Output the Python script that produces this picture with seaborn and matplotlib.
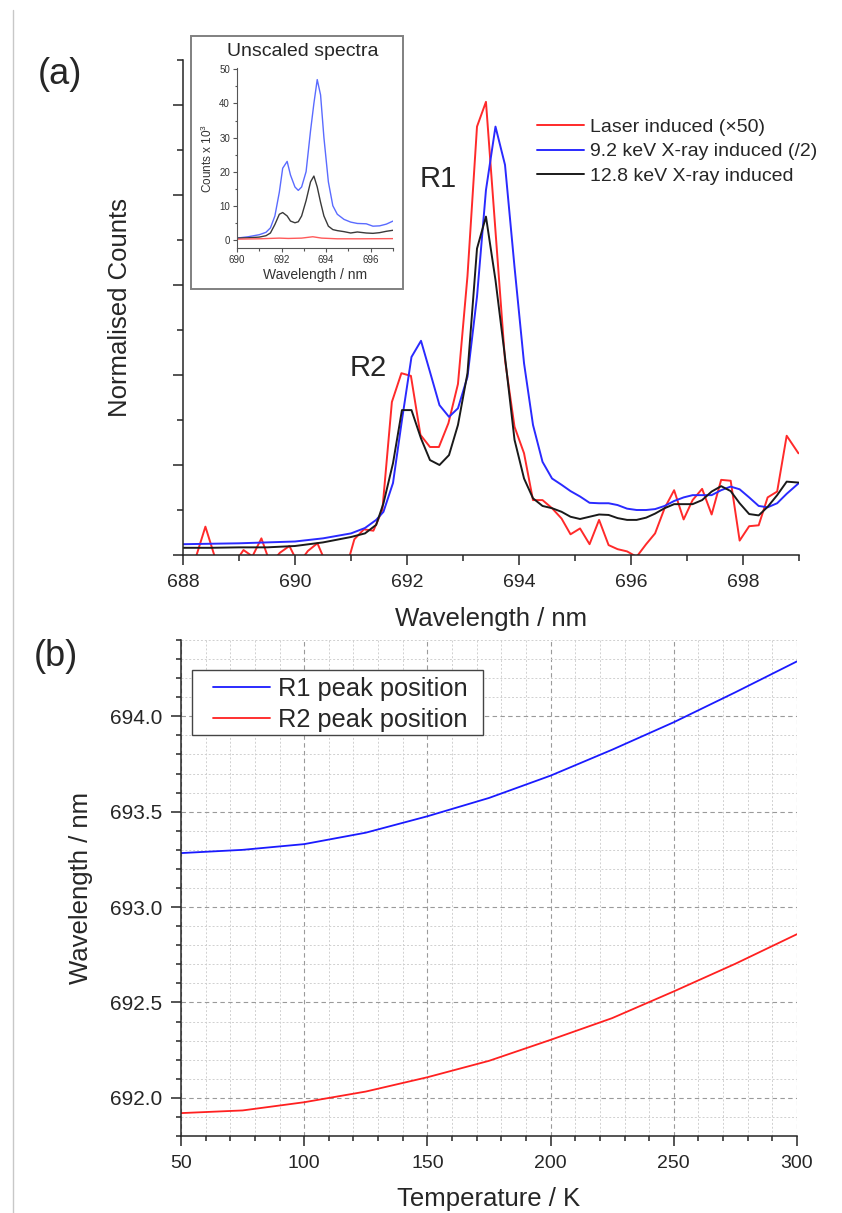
import matplotlib
matplotlib.use("Agg")
import matplotlib.pyplot as plt
from matplotlib.ticker import MultipleLocator, NullFormatter
from matplotlib.patches import Rectangle
from matplotlib.lines import Line2D
import seaborn as sns

# ---- (a) normalised spectra ----
laser_x = [688.06, 688.23, 688.40, 688.57, 688.74, 688.91, 689.08, 689.24, 689.40, 689.56,
           689.73, 689.90, 690.06, 690.23, 690.40, 690.56, 690.73, 690.89, 691.06, 691.23,
           691.40, 691.56, 691.73, 691.90, 692.07, 692.24, 692.41, 692.57, 692.74, 692.91,
           693.08, 693.25, 693.41, 693.58, 693.75, 693.92, 694.09, 694.25, 694.42, 694.59,
           694.76, 694.92, 695.09, 695.26, 695.43, 695.60, 695.76, 695.93, 696.10, 696.27,
           696.43, 696.60, 696.77, 696.94, 697.10, 697.27, 697.44, 697.61, 697.78, 697.94,
           698.11, 698.28, 698.44, 698.61, 698.78, 698.99]
laser_y = [-0.03, -0.005, 0.063, -0.005, -0.03, -0.02, 0.011, -0.003, 0.037, -0.02,
           0.005, 0.02, -0.02, 0.009, 0.026, -0.02, -0.05, -0.04, 0.035, 0.057,
           0.054, 0.10, 0.34, 0.404, 0.398, 0.267, 0.24, 0.24, 0.293, 0.38,
           0.62, 0.952, 1.007, 0.72, 0.433, 0.285, 0.226, 0.122, 0.122, 0.104,
           0.081, 0.046, 0.059, 0.024, 0.078, 0.022, 0.013, 0.008, -0.004, 0.024,
           0.048, 0.104, 0.144, 0.079, 0.122, 0.147, 0.09, 0.167, 0.165, 0.032,
           0.064, 0.066, 0.128, 0.141, 0.265, 0.226]

xray_x = [688.0, 688.5, 689.0, 689.5, 690.0, 690.5, 691.0, 691.25, 691.45, 691.58,
          691.75, 691.91, 692.08, 692.25, 692.41, 692.58, 692.75, 692.91, 693.08, 693.25,
          693.41, 693.58, 693.75, 693.92, 694.09, 694.25, 694.42, 694.59, 694.76, 694.92,
          695.09, 695.26, 695.43, 695.60, 695.76, 695.93, 696.10, 696.27, 696.43, 696.60,
          696.77, 696.94, 697.10, 697.27, 697.44, 697.61, 697.78, 697.94, 698.11, 698.28,
          698.44, 698.61, 698.78, 698.99]
kev92_y = [0.024, 0.025, 0.026, 0.028, 0.030, 0.037, 0.048, 0.060, 0.078, 0.096,
           0.16, 0.30, 0.44, 0.476, 0.407, 0.333, 0.307, 0.326, 0.396, 0.574,
           0.811, 0.952, 0.867, 0.64, 0.426, 0.289, 0.207, 0.17, 0.156, 0.142,
           0.13, 0.116, 0.115, 0.115, 0.111, 0.103, 0.1, 0.1, 0.102, 0.109,
           0.12, 0.128, 0.133, 0.133, 0.133, 0.144, 0.152, 0.146, 0.128, 0.109,
           0.106, 0.115, 0.136, 0.159]
kev128_y = [0.016, 0.016, 0.017, 0.017, 0.020, 0.028, 0.040, 0.048, 0.067, 0.115,
            0.204, 0.322, 0.322, 0.259, 0.211, 0.2, 0.222, 0.289, 0.404, 0.681,
            0.752, 0.611, 0.44, 0.256, 0.17, 0.126, 0.109, 0.104, 0.096, 0.085,
            0.08, 0.085, 0.09, 0.089, 0.082, 0.078, 0.078, 0.083, 0.092, 0.104,
            0.113, 0.113, 0.113, 0.122, 0.141, 0.153, 0.142, 0.115, 0.091, 0.088,
            0.107, 0.133, 0.163, 0.161]

# ---- inset, unscaled counts x 10^3 ----
ins_x = [690.0, 690.5, 691.0, 691.3, 691.5, 691.7, 691.9, 692.05, 692.25, 692.4,
         692.6, 692.75, 692.9, 693.1, 693.3, 693.45, 693.6, 693.75, 693.9, 694.1,
         694.3, 694.5, 694.8, 695.1, 695.4, 695.8, 696.1, 696.4, 696.7, 697.0]
ins_blue = [0.5, 0.9, 1.5, 2.2, 3.5, 7, 14, 21, 23, 19,
            15.5, 14.5, 15.5, 20, 32, 40, 47, 42.5, 30, 17,
            10, 7.5, 6.0, 5.2, 4.8, 4.7, 4.0, 4.1, 4.6, 5.5]
ins_black = [0.5, 0.6, 0.8, 1.2, 2.0, 4.5, 7.5, 8.0, 7.0, 5.5,
             5.0, 5.3, 7.0, 11.5, 17, 18.7, 15.5, 11, 7, 4.0,
             3.0, 2.7, 2.4, 2.0, 2.3, 2.0, 1.9, 2.1, 2.5, 2.8]
ins_red_x = [690.0, 691.0, 691.9, 692.3, 692.9, 693.4, 693.8, 694.5, 695.5, 697.0]
ins_red = [0.2, 0.3, 0.5, 0.4, 0.5, 0.9, 0.5, 0.3, 0.3, 0.35]

# ---- (b) peak positions ----
temp_K = [50, 75, 100, 125, 150, 175, 200, 225, 250, 275, 300]
r1_nm = [693.283, 693.30, 693.33, 693.39, 693.476, 693.572, 693.689, 693.825, 693.969, 694.126, 694.288]
r2_nm = [691.92, 691.934, 691.977, 692.033, 692.108, 692.194, 692.304, 692.418, 692.558, 692.703, 692.858]

sns.set_style("ticks")
plt.rcParams['font.family'] = ['Liberation Sans', 'DejaVu Sans']
plt.rcParams['mathtext.default'] = 'regular'

W, H = 842, 1213
fig = plt.figure(figsize=(W / 100, H / 100), dpi=100)

# left page border line
fig.add_artist(Line2D([12.7 / W, 12.7 / W], [0, 1 - 10 / H], color='#c8c8c8', lw=1))

ax1 = fig.add_axes([183 / W, 1 - 555 / H, 616 / W, 495 / H])
sns.lineplot(x=laser_x, y=laser_y, ax=ax1, color='#ff2a2a', lw=1.4, label='Laser induced (×50)')
sns.lineplot(x=xray_x, y=kev92_y, ax=ax1, color='#2a2aff', lw=1.4, label='9.2 keV X-ray induced (/2)')
sns.lineplot(x=xray_x, y=kev128_y, ax=ax1, color='#1a1a1a', lw=1.4, label='12.8 keV X-ray induced')
ax1.set_xlim(688, 699)
ax1.set_ylim(0, 1.1)
ax1.xaxis.set_major_locator(MultipleLocator(2))
ax1.xaxis.set_minor_locator(MultipleLocator(1))
ax1.yaxis.set_major_locator(MultipleLocator(0.2))
ax1.yaxis.set_minor_locator(MultipleLocator(0.1))
ax1.yaxis.set_major_formatter(NullFormatter())
ax1.tick_params(which='major', direction='out', length=7, width=1.1, labelsize=14, pad=7)
ax1.tick_params(which='minor', direction='out', length=4.5, width=1.1)
ax1.tick_params(axis='y', which='major', length=7.5)
sns.despine(ax=ax1)
for s in ['left', 'bottom']:
    ax1.spines[s].set_linewidth(1.1)
ax1.set_xlabel('Wavelength / nm', fontsize=18.5, labelpad=11)
ax1.set_ylabel('Normalised Counts', fontsize=18.5, labelpad=22)
ax1.legend(loc='upper left', bbox_to_anchor=(0.575, 0.882), frameon=False, fontsize=14,
           handlelength=2.4, handletextpad=0.3, labelspacing=0.35, borderaxespad=0, borderpad=0)
ax1.text(692.55, 0.835, 'R1', fontsize=21, ha='center', va='center')
ax1.text(691.3, 0.415, 'R2', fontsize=21, ha='center', va='center')
fig.text(60 / W, 1 - 75 / H, '(a)', fontsize=26, ha='center', va='center')

# inset frame + axes
fig.add_artist(Rectangle((190.7 / W, 1 - 289 / H), 212 / W, 253 / H, transform=fig.transFigure,
                         fill=False, edgecolor='#808080', lw=1.4))
axi = fig.add_axes([237 / W, 1 - 248 / H, 156 / W, 180 / H])
sns.lineplot(x=ins_x, y=ins_blue, ax=axi, color='#5a6bff', lw=1.0)
sns.lineplot(x=ins_x, y=ins_black, ax=axi, color='#3a3a3a', lw=1.0)
sns.lineplot(x=ins_red_x, y=ins_red, ax=axi, color='#ff5a5a', lw=1.0)
axi.set_xlim(690, 697)
axi.set_ylim(-2.4, 50.4)
axi.xaxis.set_major_locator(MultipleLocator(2))
axi.xaxis.set_minor_locator(MultipleLocator(1))
axi.yaxis.set_major_locator(MultipleLocator(10))
axi.yaxis.set_minor_locator(MultipleLocator(5))
axi.tick_params(which='major', direction='out', length=3, width=0.8, labelsize=7,
                colors='#555555', labelcolor='#333333', pad=2)
axi.tick_params(which='minor', direction='out', length=1.8, width=0.8, colors='#555555')
sns.despine(ax=axi)
for s in ['left', 'bottom']:
    axi.spines[s].set_color('#555555')
    axi.spines[s].set_linewidth(0.8)
axi.set_xlabel('Wavelength / nm', fontsize=10, color='#333333', labelpad=2)
axi.set_ylabel('Counts x 10$^3$', fontsize=8.5, color='#333333', labelpad=3)
fig.text(303 / W, 1 - 51 / H, 'Unscaled spectra', fontsize=14, ha='center', va='center')

# ---- (b) ----
ax2 = fig.add_axes([181 / W, 1 - 1136 / H, 616 / W, 496 / H])
sns.lineplot(x=temp_K, y=r1_nm, ax=ax2, color='#1a1aff', lw=1.3, label='R1 peak position')
sns.lineplot(x=temp_K, y=r2_nm, ax=ax2, color='#ff2020', lw=1.3, label='R2 peak position')
ax2.set_xlim(50, 300)
ax2.set_ylim(691.8, 694.4)
ax2.xaxis.set_major_locator(MultipleLocator(50))
ax2.xaxis.set_minor_locator(MultipleLocator(10))
ax2.yaxis.set_major_locator(MultipleLocator(0.5))
ax2.yaxis.set_minor_locator(MultipleLocator(0.1))
ax2.yaxis.set_major_formatter(plt.FormatStrFormatter('%.1f'))
ax2.grid(which='major', color='#9a9a9a', lw=0.8, ls=(0, (4, 3)))
ax2.grid(which='minor', color='#d0d0d0', lw=0.7, ls=(0, (2, 2)))
ax2.set_axisbelow(True)
ax2.tick_params(which='major', direction='out', length=7.5, width=1.1, labelsize=14, pad=6)
ax2.tick_params(axis='y', which='major', labelsize=15)
ax2.tick_params(which='minor', direction='out', length=3.5, width=1.1)
sns.despine(ax=ax2)
for s in ['left', 'bottom']:
    ax2.spines[s].set_linewidth(1.1)
ax2.set_xlabel('Temperature / K', fontsize=18.5, labelpad=11)
ax2.set_ylabel('Wavelength / nm', fontsize=18.5, labelpad=12)
# legend frame drawn separately so padding matches
ax2.add_patch(Rectangle((0.0179, 0.8085), 0.4721, 0.131, transform=ax2.transAxes,
                        facecolor='white', edgecolor='#444444', lw=1.0, zorder=4))
leg = ax2.legend(loc='upper left', bbox_to_anchor=(0.0513, 0.9254), fontsize=18.3, frameon=False,
                 handlelength=2.26, handletextpad=0.3, labelspacing=0.28,
                 borderaxespad=0, borderpad=0)
leg.set_zorder(5)
fig.text(56 / W, 1 - 657 / H, '(b)', fontsize=26, ha='center', va='center')

fig.savefig('out.png', dpi=100)
